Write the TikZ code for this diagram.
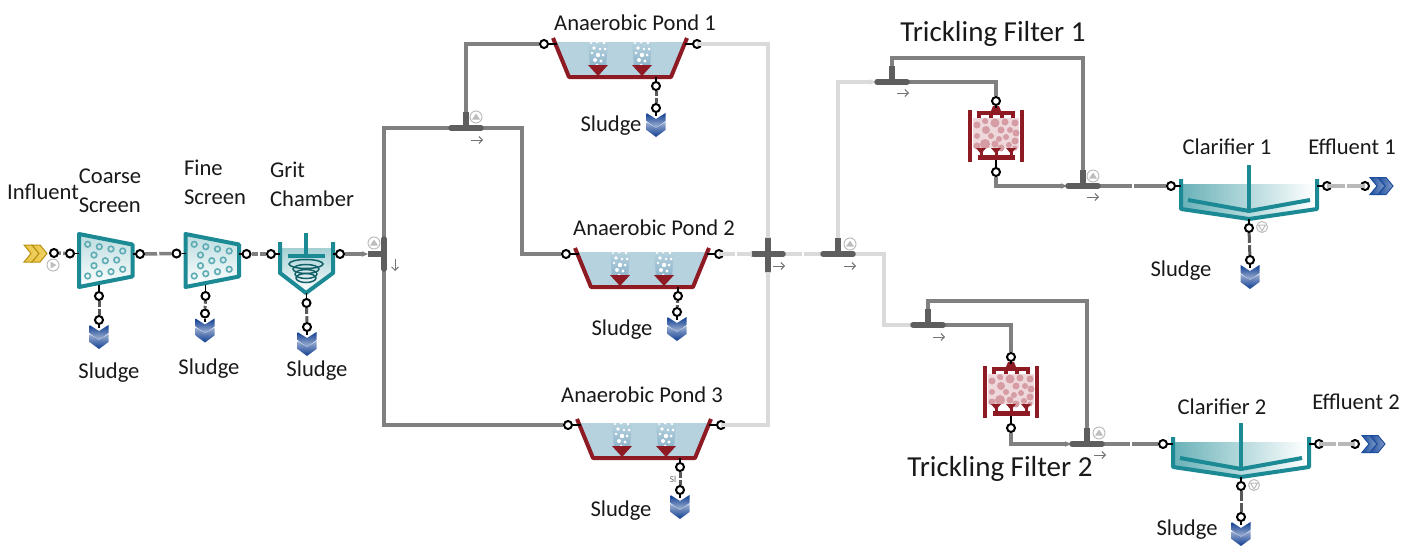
\documentclass[tikz,border=0pt]{standalone}
\usepackage{fontspec}
\setmainfont{Carlito}
\usetikzlibrary{arrows.meta,backgrounds,decorations.markings}
\definecolor{tealwall}{HTML}{1B8A94}
\definecolor{wallred}{HTML}{8E1B24}
\definecolor{pinkball}{HTML}{D59CA4}
\definecolor{pinkback}{HTML}{EFD8DB}
\definecolor{pondwater}{HTML}{B7D2DF}
\definecolor{bubbleblue}{HTML}{8BB3C9}
\definecolor{sinkblue}{HTML}{0F3D91}
\definecolor{pipegray}{HTML}{808080}
\definecolor{pipelight}{HTML}{DADADA}
\definecolor{teegray}{HTML}{5E5E5E}
\definecolor{icongray}{HTML}{BDBDBD}
\definecolor{goldfill}{HTML}{EBC644}
\definecolor{goldline}{HTML}{B8900F}
\definecolor{blueline}{HTML}{1E4E9E}
\newcommand\chevrons[3]{
\foreach \d in {0,8}{
\shade[left color=#1,right color=#2,draw=#3,line width=1] (\d,-8.5) -- (\d+8,-8.5) -- (\d+15,0) -- (\d+8,8.5) -- (\d,8.5) -- (\d+7,0) -- cycle;}
}
\tikzset{
lbl/.style={font=\fontsize{22.6}{29}\selectfont,text=black!90,inner sep=0,align=left,yshift=-1.5pt},
biglbl/.style={font=\fontsize{29}{30}\selectfont,text=black!90,inner sep=0,yshift=-1pt},
port/.style={circle,draw=black,line width=2,fill=white,inner sep=0,minimum size=8},
stub/.style={draw=black,line width=1.8},
wall/.style={line width=4,line join=round},
pipe/.style={draw=pipegray,line width=3.5},
lightpipe/.style={draw=pipelight,line width=3.5},
gap/.style={postaction={decorate,decoration={markings,mark=at position 0.5 with {\fill[white] (-1,-2) rectangle (1,2);}}}},
shortpipe/.style={pipe,gap},
shortlight/.style={draw=pipelight!85!black,line width=3.5,gap},
sludgepipe/.style={draw=black!65,line width=3,gap},
tipped/.style={-{Stealth[length=6,width=5.5]}},
bar/.style={draw=teegray,line width=5.5,line cap=round},
screen/.pic={
\draw[tealwall,wall,top color=tealwall!30,bottom color=white] (-26.5,-26.5) -- (27,-16) -- (27,16) -- (-26.5,26.5) -- cycle;
\foreach \a/\b in {-17.8/-16.2,-6.2/-13.8,5.5/-11.5,17.2/-9.5,-11.5/-5.5,-0.2/0.2,11.2/-0.5,-11.5/5.2,-17.8/15.5,-6.2/13.2,5.5/11.2,17.2/8.8}
\draw[tealwall!70,line width=1.6] (\a,\b) circle (2.8);
\node[port] (-in) at (-35.5,-7) {};
\node[port] (-out) at (34.5,-6.5) {};
\node[port] (-sl) at (-6.5,35.5) {};
\draw[stub] (-in) -- (-26.5,-7);
\draw[stub] (-out) -- (27,-6.5);
\draw[stub] (-sl) -- (-6.5,24);
},
gritbox/.pic={
\fill[top color=tealwall!40,bottom color=white] (-26,-8) -- (27,-8) -- (27,17) -- (0,37) -- (-26,17) -- cycle;
\draw[tealwall,wall] (-26,-14) -- (-26,17) -- (0,37) -- (27,17) -- (27,-14);
\draw[tealwall,wall] (0,-23) -- (0,0);
\draw[tealwall,wall] (-18,0) -- (19,0);
\foreach \r/\c in {17/7,13/12,11/17,10/21}
\draw[tealwall!70!black,line width=1.5] (0,\c+1) ellipse ({\r} and 4.5);
\node[port] (-in) at (-35,-2) {};
\node[port] (-out) at (34,-2) {};
\node[port] (-sl) at (0.5,47) {};
\draw[stub] (-in) -- (-26,-2);
\draw[stub] (-out) -- (27,-2);
\draw[stub] (-sl) -- (0.5,37);
},
pond/.pic={
\fill[pondwater] (-64,4) -- (64,4) -- (50,38) -- (-50,38) -- cycle;
\foreach \s in {-22,22}{
\shade[top color=pondwater,bottom color=bubbleblue] (\s-10,4) -- (\s+10,4) -- (\s+8,29) -- (\s-8,29) -- cycle;
\foreach \a/\b/\r in {-7/5/1.2,-1/4/1.5,6/5/1.3,-4/10/1.8,2/11/1.3,7/11/1.5,-6/15/1.4,0/17/2.2,5/17/1.5,-3/22/2,3/23/1.7,-1/27/1.5}
\fill[white] (\s+\a,\b) circle (\r);
\fill[wallred] (\s-10,27) -- (\s+10,27) -- (\s,38) -- cycle;
}
\draw[wallred,wall] (-67,0) -- (-51,39) -- (51,39) -- (67,0);
\node[port] (-in) at (-76,6) {};
\node[port] (-out) at (77,6) {};
\node[port] (-sl) at (36,48) {};
\draw[stub] (-in) -- (-63,6);
\draw[stub] (-out) -- (65,6);
\draw[stub] (-sl) -- (36,39);
},
filterbox/.pic={
\fill[pinkback] (-23,-18) rectangle (23,12);
\foreach \a/\b/\r in {-19/-11/3.5,-11/-15/3,-10/-6/4,-1/-13/4.5,9/-14/3.5,19/-13/3.5,-19/0/3,-5/0/3,5/-6/3.5,14/-6/3,20/-3/3.5,-11/8/5,3/3/3,-1/8/3.5,10/1/3,19/5/3.5,-19/10/3.5,5/12/3.5,13/9/3,19/12/2.5,-10/-14/2}
\fill[pinkball] (\a,\b) circle (\r);
\fill[wallred] (-28,-26) rectangle (-24,26);
\fill[wallred] (24,-26) rectangle (28,26);
\fill[wallred] (-19,-25) rectangle (19,-21);
\foreach \a in {-19,-7,4,15}
\fill[wallred] (\a,-25) rectangle (\a+4,-18);
\fill[wallred] (-3,-30) -- (3,-30) -- (5,-25) -- (-5,-25) -- cycle;
\fill[wallred] (-18,19) rectangle (19,24);
\foreach \a in {-15,0,15}{
\fill[wallred] (\a-1.5,15) rectangle (\a+1.5,20);
\fill[wallred] (\a-5,12) -- (\a+5,12) -- (\a,18) -- cycle;}
\node[port] (-in) at (0,-35) {};
\node[port] (-out) at (0,36) {};
\draw[stub] (-in) -- (0,-28);
\draw[stub] (-out) -- (0,24);
},
clarifier/.pic={
\shade[left color=tealwall!65,right color=white] (-66,-2) -- (66,-2) -- (66,23) -- (0,32) -- (-66,23) -- cycle;
\draw[tealwall,wall] (-68,-7) -- (-68,23) -- (0,33) -- (68,23) -- (68,-7);
\draw[tealwall,wall] (-61,14) -- (0,25) -- (61,14);
\draw[tealwall,line width=4] (0,-21) -- (0,25);
\node[port] (-in) at (-78,0) {};
\node[port] (-out) at (78,0) {};
\node[port] (-sl) at (0,42) {};
\draw[stub] (-in) -- (-68,0);
\draw[stub] (-out) -- (68,0);
\draw[stub] (-sl) -- (0,33);
\draw[icongray,line width=1] (13,41) circle (5.5);
\draw[icongray,line width=1] (9.5,39) -- (16.5,39) -- (13,45) -- cycle;
},
sink/.pic={
\foreach \d/\p/\q in {0/sinkblue/sinkblue!35,9/sinkblue!40/sinkblue}
\shade[top color=\p,bottom color=\q] (-9.5,\d) -- (0,\d+6) -- (9.5,\d) -- (9.5,\d+8) -- (0,\d+15) -- (-9.5,\d+8) -- cycle;
\node[port] (-p) at (0,-5) {};
\draw[stub] (-p) -- (0,3);
},
teeup/.pic={
\draw[bar] (-15,0) -- (15,0);
\draw[bar,line cap=butt] (0,0) -- (0,-16);
\coordinate (-w) at (-16,0);
\coordinate (-e) at (16,0);
\coordinate (-n) at (0,-16);
},
teeleft/.pic={
\draw[bar] (0,-15) -- (0,15);
\draw[bar,line cap=butt] (0,0) -- (-16,0);
\coordinate (-w) at (-16,0);
\coordinate (-n) at (0,-16);
\coordinate (-s) at (0,16);
},
mixer/.pic={
\draw[bar] (-15,0) -- (15,0);
\draw[bar] (0,-15) -- (0,17);
\coordinate (-w) at (-16,0);
\coordinate (-e) at (16,0);
\coordinate (-n) at (0,-16);
\coordinate (-s) at (0,18);
},
flowright/.pic={\draw[black!55,line width=0.9,-{Straight Barb[length=3.5,width=7]}] (-6,0) -- (6,0);},
flowdown/.pic={\draw[black!55,line width=0.9,-{Straight Barb[length=3.5,width=7]}] (0,-6) -- (0,6);},
upicon/.pic={
\draw[icongray,line width=1] (0,0) circle (6);
\fill[icongray] (-4,2.5) -- (4,2.5) -- (0,-3.5) -- cycle;
},
playicon/.pic={
\draw[icongray,line width=1] (0,0) circle (6);
\fill[icongray] (-2.5,-3.5) -- (-2.5,3.5) -- (3.5,0) -- cycle;
},
influentmark/.pic={
\chevrons{goldfill}{goldfill!80!white}{goldline}
},
effluentmark/.pic={
\chevrons{blueline}{blueline!55!white}{blueline}
}
}
\begin{document}
\begin{tikzpicture}[x=1pt,y=-1pt]
\useasboundingbox (0,0) rectangle (1419,546);
\pic at (24,253.5) {influentmark};
\node[port] (inp) at (54,253) {};
\pic at (53,265) {playicon};
\pic (cs) at (105.5,260.5) {screen};
\pic (fs) at (212,260.5) {screen};
\pic (gc) at (306,256) {gritbox};
\pic (sa) at (99,325) {sink};
\pic (sb) at (205,318.5) {sink};
\pic (sc) at (307,332) {sink};
\pic (sp) at (384,254) {teeleft};
\pic at (374,243) {upicon};
\pic at (395,265) {flowdown};
\pic (ta) at (466,128) {teeup};
\pic at (476,117) {upicon};
\pic at (477,140) {flowright};
\pic (pa) at (620,38) {pond};
\pic (pb) at (642,248) {pond};
\pic (pc) at (644,419) {pond};
\pic (sd) at (656,113) {sink};
\pic (se) at (677,317) {sink};
\pic (sf) at (680,495) {sink};
\pic (mx) at (768,254) {mixer};
\pic at (779,266) {flowright};
\pic (tb) at (838,254) {teeup};
\pic at (850,244) {upicon};
\pic at (850,266) {flowright};
\pic (tc) at (892,82) {teeup};
\pic at (903,93) {flowright};
\pic (td) at (928,325) {teeup};
\pic at (939,337) {flowright};
\pic (fa) at (996,136) {filterbox};
\pic (fb) at (1011,392) {filterbox};
\pic (te) at (1083,186) {teeup};
\pic at (1093,176) {upicon};
\pic at (1093,197) {flowright};
\pic (tf) at (1087,444) {teeup};
\pic at (1099,433) {upicon};
\pic at (1100,455) {flowright};
\pic (ca) at (1249,186) {clarifier};
\pic (cb) at (1241,444) {clarifier};
\pic (sg) at (1250,265) {sink};
\pic (sh) at (1241,522) {sink};
\pic at (1370,186) {effluentmark};
\pic at (1362,444) {effluentmark};
\node[port] (ea) at (1365,186) {};
\node[port] (eb) at (1355,444) {};
\coordinate (ab) at (522,254);
\coordinate (bb) at (884,254);
\coordinate (cc) at (1083,58);
\coordinate (cd) at (1087,301);
\begin{scope}[on background layer]
\draw[shortpipe] (inp) -- (cs-in);
\draw[shortpipe] (cs-out) -- (fs-in);
\draw[shortpipe] (fs-out) -- (gc-in);
\draw[sludgepipe] (cs-sl) -- (sa-p);
\draw[sludgepipe] (fs-sl) -- (sb-p);
\draw[sludgepipe] (gc-sl) -- (sc-p);
\draw[sludgepipe] (pa-sl) -- (sd-p);
\draw[sludgepipe] (pb-sl) -- (se-p);
\draw[sludgepipe] (pc-sl) -- (sf-p);
\draw[sludgepipe] (ca-sl) -- (sg-p);
\draw[sludgepipe] (cb-sl) -- (sh-p);
\draw[pipe,tipped] (gc-out) -- (sp-w);
\draw[pipe] (sp-n) |- (ta-w);
\draw[pipe] (sp-s) |- (pc-in);
\draw[pipe] (ta-n) |- (pa-in);
\draw[pipe] (ta-e) -| (ab) -- (pb-in);
\draw[pipe] (tc-n) |- (cc) -- (te-n);
\draw[pipe] (tc-e) -| (fa-in);
\draw[pipe,tipped] (fa-out) |- (te-w);
\draw[shortpipe] (te-e) -- (ca-in);
\draw[pipe] (td-n) |- (cd) -- (tf-n);
\draw[pipe] (td-e) -| (fb-in);
\draw[pipe,tipped] (fb-out) |- (tf-w);
\draw[shortpipe] (tf-e) -- (cb-in);
\draw[lightpipe,gap] (mx-e) -- (tb-w);
\draw[lightpipe,tipped] (tb-n) |- (tc-w);
\draw[lightpipe] (tb-e) -- (bb) |- (td-w);
\end{scope}
\draw[lightpipe] (pa-out.center) -| (mx-n);
\draw[lightpipe,gap] (pb-out.center) -- (mx-w);
\draw[lightpipe] (pc-out.center) -| (mx-s);
\draw[shortlight] (ca-out.center) -- (ea.center);
\draw[shortlight] (cb-out.center) -- (eb.center);
\node[lbl] (linf) at (43,190) {Influent};
\node[lbl] (lcs) at (110,189) {Coarse\\Screen};
\node[lbl] (lfs) at (215,181) {Fine\\Screen};
\node[lbl] (lgc) at (312,182.5) {Grit\\Chamber};
\node[lbl] (lsa) at (109,371) {Sludge};
\node[lbl] (lsb) at (209,367) {Sludge};
\node[lbl] (lsc) at (317,369) {Sludge};
\node[lbl] (lpa) at (635,21) {Anaerobic Pond 1};
\node[lbl] (lpb) at (654,226) {Anaerobic Pond 2};
\node[lbl] (lpc) at (642,393) {Anaerobic Pond 3};
\node[lbl] (lsd) at (611,124) {Sludge};
\node[lbl] (lse) at (622,328) {Sludge};
\node[lbl] (lsf) at (621,509) {Sludge};
\node[inner sep=0,font=\fontsize{9}{10}\selectfont,text=black!60] (lsl) at (673,479) {Sl};
\node[biglbl] (lfa) at (993,33) {Trickling Filter 1};
\node[biglbl] (lfb) at (1000,468) {Trickling Filter 2};
\node[lbl] (lca) at (1227,145) {Clarifier 1};
\node[lbl] (lcb) at (1222,405) {Clarifier 2};
\node[lbl] (lea) at (1352,145) {Effluent 1};
\node[lbl] (leb) at (1356,400) {Effluent 2};
\node[lbl] (lsg) at (1181,269) {Sludge};
\node[lbl] (lsh) at (1187,528) {Sludge};
\end{tikzpicture}
\end{document}
